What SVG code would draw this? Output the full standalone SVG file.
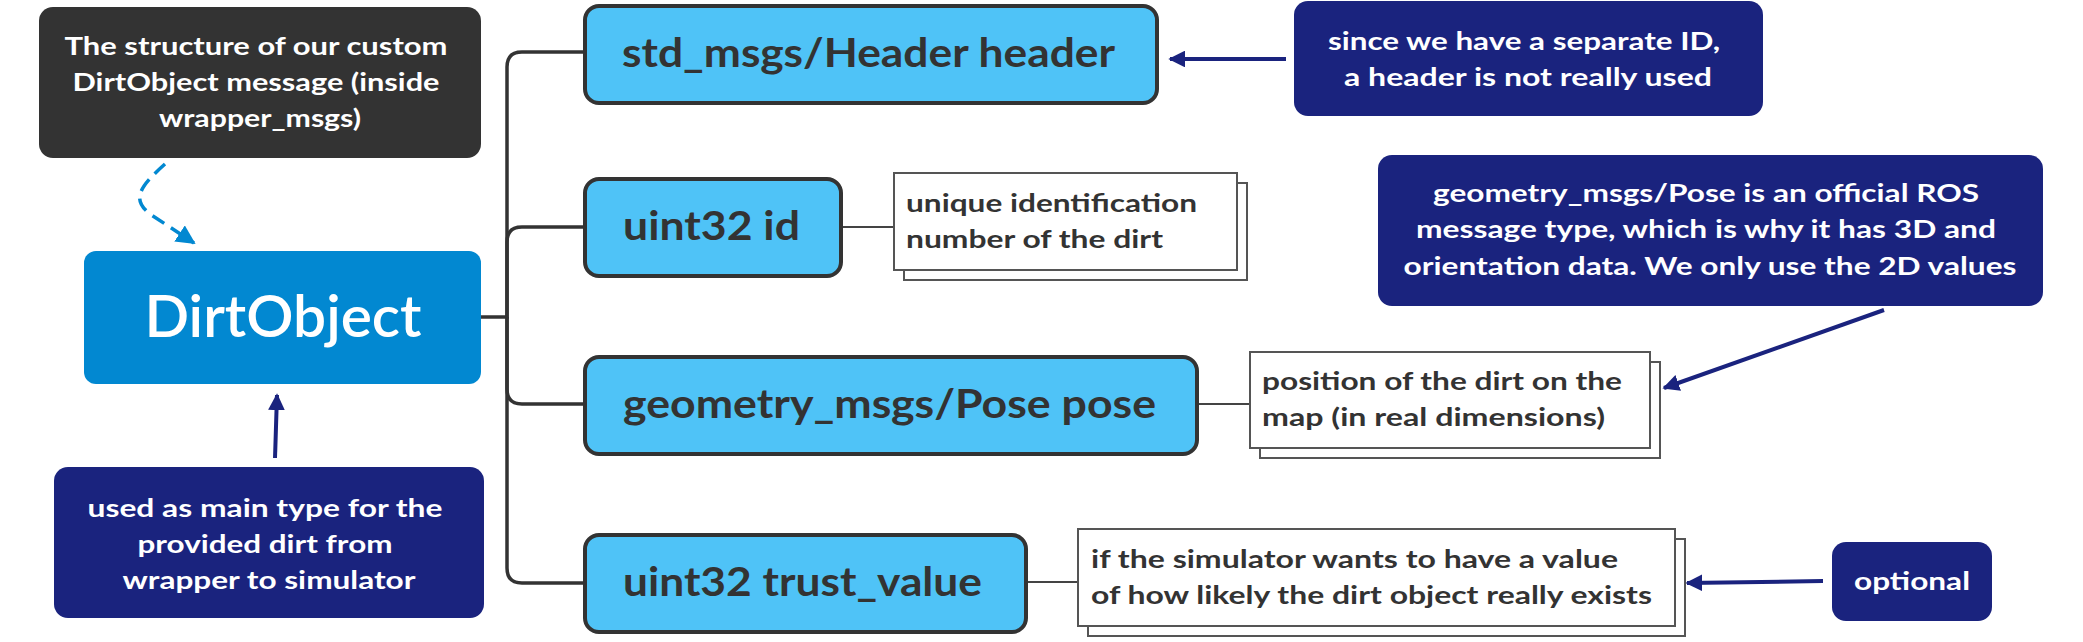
<svg xmlns="http://www.w3.org/2000/svg" width="2083" height="642" viewBox="0 0 2083 642">
<defs>
<style>
.t{font-family:Lato,"Open Sans","Liberation Sans",sans-serif;font-weight:700}
.w{fill:#ffffff;font-size:25px}
.f{fill:#333333;font-size:40px}
.n{fill:#333333;font-size:25px}
.field{fill:#4FC3F7;stroke:#333333;stroke-width:4}
.note{fill:#ffffff;stroke:#555555;stroke-width:2}
.navy{fill:#1A237E}
.tree{fill:none;stroke:#333333;stroke-width:3.5}
.thin{fill:none;stroke:#444444;stroke-width:2}
.arr{fill:none;stroke:#1A237E;stroke-width:4}
</style>
<marker id="ah" viewBox="0 0 10 10" refX="9" refY="5" markerWidth="4.2" markerHeight="4.2" markerUnits="strokeWidth" orient="auto">
<path d="M0,0 L10,5 L0,10 z" fill="#1A237E"/>
</marker>
<marker id="ahb" viewBox="0 0 10 10" refX="9" refY="5" markerWidth="5.5" markerHeight="5.5" markerUnits="strokeWidth" orient="auto">
<path d="M0,0 L10,5 L0,10 z" fill="#0288D1"/>
</marker>
</defs>
<rect width="2083" height="642" fill="#ffffff"/>

<g id="connectors">
<path class="tree" d="M481,317 H507 V67 Q507,52 522,52 H583"/>
<path class="tree" d="M507,317 V242 Q507,227 522,227 H583"/>
<path class="tree" d="M507,317 V389 Q507,404 522,404 H583"/>
<path class="tree" d="M507,317 V568 Q507,583 522,583 H583"/>
<path class="thin" d="M841,227 H894"/>
<path class="thin" d="M1197,404 H1250"/>
<path class="thin" d="M1026,582 H1078"/>
<path d="M165,164 C138,188 132,200 150,214 L194,243" fill="none" stroke="#0288D1" stroke-width="3.5" stroke-dasharray="14,8" marker-end="url(#ahb)"/>
<path class="arr" d="M275,458 L277,395" marker-end="url(#ah)"/>
<path class="arr" d="M1286,59 L1170,59" marker-end="url(#ah)"/>
<path class="arr" d="M1884,310 L1664,388" marker-end="url(#ah)"/>
<path class="arr" d="M1823,581 L1687,583" marker-end="url(#ah)"/>
</g>

<g id="title-note">
<rect x="39" y="7" width="442" height="151" rx="14" fill="#333333"/>
<text class="t w" text-anchor="middle" x="256" y="55" textLength="383" lengthAdjust="spacingAndGlyphs">The structure of our custom</text>
<text class="t w" text-anchor="middle" x="256" y="91" textLength="367" lengthAdjust="spacingAndGlyphs">DirtObject message (inside</text>
<text class="t w" text-anchor="middle" x="260" y="127" textLength="202" lengthAdjust="spacingAndGlyphs">wrapper_msgs)</text>
</g>

<g id="dirtobject">
<rect x="84" y="251" width="397" height="133" rx="12" fill="#0288D1"/>
<text x="283" y="337" text-anchor="middle" font-family="Lato,'Open Sans',sans-serif" font-weight="600" font-size="58" fill="#ffffff" textLength="277" lengthAdjust="spacingAndGlyphs">DirtObject</text>
</g>

<g id="usage-note">
<rect x="54" y="467" width="430" height="151" rx="14" class="navy"/>
<text class="t w" text-anchor="middle" x="265" y="517" textLength="355" lengthAdjust="spacingAndGlyphs">used as main type for the</text>
<text class="t w" text-anchor="middle" x="265" y="553" textLength="255" lengthAdjust="spacingAndGlyphs">provided dirt from</text>
<text class="t w" text-anchor="middle" x="269" y="589" textLength="293" lengthAdjust="spacingAndGlyphs">wrapper to simulator</text>
</g>

<g id="field-header">
<rect class="field" x="585" y="6" width="572" height="97" rx="14"/>
<text class="t f" x="622" y="67" textLength="493" lengthAdjust="spacingAndGlyphs">std_msgs/Header header</text>
</g>

<g id="field-id">
<rect class="field" x="585" y="179" width="256" height="97" rx="14"/>
<text class="t f" x="623" y="240" textLength="177" lengthAdjust="spacingAndGlyphs">uint32 id</text>
</g>
<g id="note-id">
<rect class="note" x="904" y="183" width="343" height="97"/>
<rect class="note" x="894" y="173" width="343" height="97"/>
<text class="t n" x="906" y="212" textLength="291" lengthAdjust="spacingAndGlyphs">unique identification</text>
<text class="t n" x="906" y="248" textLength="257" lengthAdjust="spacingAndGlyphs">number of the dirt</text>
</g>

<g id="field-pose">
<rect class="field" x="585" y="357" width="612" height="97" rx="14"/>
<text class="t f" x="623" y="418" textLength="533" lengthAdjust="spacingAndGlyphs">geometry_msgs/Pose pose</text>
</g>
<g id="note-pose">
<rect class="note" x="1260" y="362" width="400" height="96"/>
<rect class="note" x="1250" y="352" width="400" height="96"/>
<text class="t n" x="1262" y="390" textLength="360" lengthAdjust="spacingAndGlyphs">position of the dirt on the</text>
<text class="t n" x="1262" y="426" textLength="343" lengthAdjust="spacingAndGlyphs">map (in real dimensions)</text>
</g>

<g id="field-trust">
<rect class="field" x="585" y="535" width="441" height="97" rx="14"/>
<text class="t f" x="623" y="596" textLength="359" lengthAdjust="spacingAndGlyphs">uint32 trust_value</text>
</g>
<g id="note-trust">
<rect class="note" x="1088" y="539" width="597" height="97"/>
<rect class="note" x="1078" y="529" width="597" height="97"/>
<text class="t n" x="1091" y="568" textLength="527" lengthAdjust="spacingAndGlyphs">if the simulator wants to have a value</text>
<text class="t n" x="1091" y="604" textLength="561" lengthAdjust="spacingAndGlyphs">of how likely the dirt object really exists</text>
</g>

<g id="header-comment">
<rect x="1294" y="1" width="469" height="115" rx="14" class="navy"/>
<text class="t w" text-anchor="middle" x="1524" y="50" textLength="392" lengthAdjust="spacingAndGlyphs">since we have a separate ID,</text>
<text class="t w" text-anchor="middle" x="1528" y="86" textLength="368" lengthAdjust="spacingAndGlyphs">a header is not really used</text>
</g>

<g id="pose-comment">
<rect x="1378" y="155" width="665" height="151" rx="14" class="navy"/>
<text class="t w" text-anchor="middle" x="1706" y="202" textLength="546" lengthAdjust="spacingAndGlyphs">geometry_msgs/Pose is an official ROS</text>
<text class="t w" text-anchor="middle" x="1706" y="238" textLength="580" lengthAdjust="spacingAndGlyphs">message type, which is why it has 3D and</text>
<text class="t w" text-anchor="middle" x="1710" y="275" textLength="613" lengthAdjust="spacingAndGlyphs">orientation data. We only use the 2D values</text>
</g>

<g id="optional-comment">
<rect x="1832" y="542" width="160" height="79" rx="14" class="navy"/>
<text class="t w" text-anchor="middle" x="1912" y="590" textLength="116" lengthAdjust="spacingAndGlyphs">optional</text>
</g>
</svg>
